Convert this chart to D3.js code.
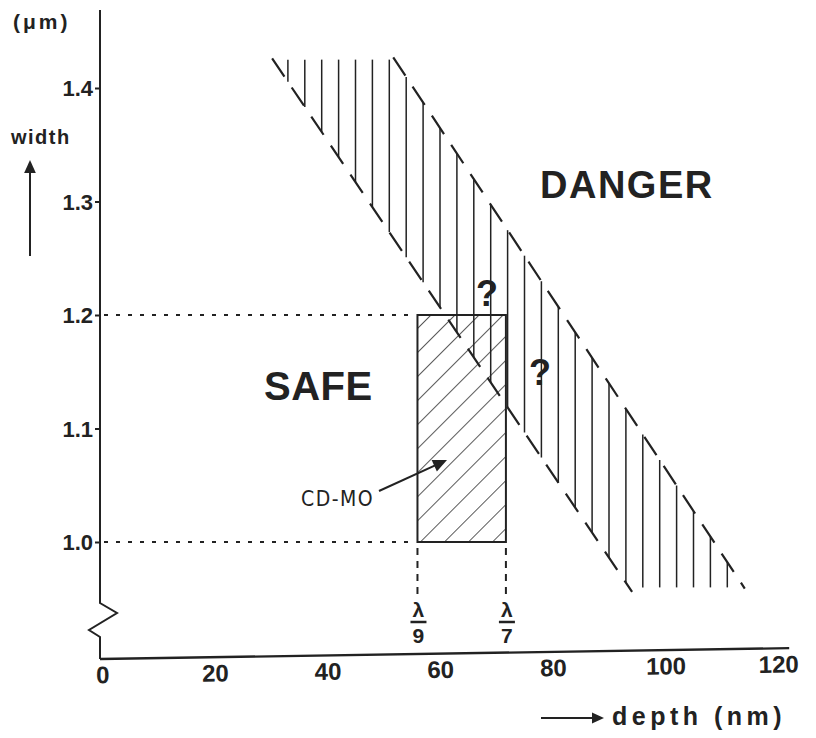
<!DOCTYPE html>
<html>
<head>
<meta charset="utf-8">
<script src="https://cdn.jsdelivr.net/npm/d3@7"></script>
<style>
  html, body { margin: 0; padding: 0; background: #fff; }
  svg { display: block; }
</style>
</head>
<body>
<svg id="chart" width="816" height="738"></svg>
<script>
// Axis ticks
const depthTicks = [0, 20, 40, 60, 80, 100, 120];
const widthTicks = [1.0, 1.1, 1.2, 1.3, 1.4];

// CD-MO operating window: depth between λ/9 and λ/7, width 1.0–1.2 µm
const cdmoDepth = [56, 71.7];
const cdmoWidth = [1.0, 1.2];
const cdmoMarkers = [
  { depth: 56, denom: "9" },
  { depth: 71.7, denom: "7" }
];

// Boundary band between SAFE and DANGER (endpoints of the two dashed limits)
const safeLimit = [{ depth: 30.2, width: 1.426 }, { depth: 94.1, width: 0.956 }];
const dangerLimit = [{ depth: 51.7, width: 1.427 }, { depth: 114.1, width: 0.959 }];
const bandWidthRange = [0.96, 1.425];

const svg = d3.select("#chart");
const ink = "#222";
const sans = "Liberation Sans, Arial, Helvetica, sans-serif";

const x = d3.scaleLinear().domain([0, 120]).range([102, 778]);
const y = d3.scaleLinear().domain([1.0, 1.4]).range([542, 88]);

// bold sans label helper
function label(px, py, size, str, opts = {}) {
  return svg.append("text")
    .attr("x", px).attr("y", py)
    .attr("text-anchor", opts.anchor || "start")
    .style("font-family", opts.family || sans)
    .style("font-weight", opts.weight || "bold")
    .style("font-size", size + "px")
    .style("letter-spacing", (opts.spacing || 0) + "px")
    .style("fill", ink)
    .text(str);
}

// linear interpolation along a limit line
function widthAt(line, d) {
  const [a, b] = line;
  const t = (d - a.depth) / (b.depth - a.depth);
  return a.width + t * (b.width - a.width);
}

// ---- hatch pattern for the CD-MO window
const defs = svg.append("defs");
defs.append("pattern")
  .attr("id", "diag")
  .attr("patternUnits", "userSpaceOnUse")
  .attr("width", 17).attr("height", 17)
  .attr("patternTransform", "rotate(45)")
  .append("line")
  .attr("x1", 0).attr("y1", 0).attr("x2", 0).attr("y2", 17)
  .attr("stroke", ink).attr("stroke-width", 1.5);

// ---- band: vertical hatching between the two limits
const hatchDepths = d3.range(33, 113, 3);
const hatch = svg.append("g").attr("stroke", ink).attr("stroke-width", 1.5);
hatchDepths.forEach(d => {
  const top = Math.min(bandWidthRange[1], widthAt(dangerLimit, d));
  const bot = Math.max(bandWidthRange[0], widthAt(safeLimit, d));
  if (top > bot + 0.005) {
    hatch.append("line")
      .attr("x1", x(d)).attr("x2", x(d))
      .attr("y1", y(top)).attr("y2", y(bot));
  }
});

// dashed limit lines
[safeLimit, dangerLimit].forEach(line => {
  svg.append("line")
    .attr("x1", x(line[0].depth)).attr("y1", y(line[0].width))
    .attr("x2", x(line[1].depth)).attr("y2", y(line[1].width))
    .attr("stroke", ink).attr("stroke-width", 2.2)
    .attr("stroke-dasharray", "22,13");
});

// ---- CD-MO window
const rx0 = x(cdmoDepth[0]), rx1 = x(cdmoDepth[1]);
const ry0 = y(cdmoWidth[1]), ry1 = y(cdmoWidth[0]);
svg.append("rect")
  .attr("x", rx0).attr("y", ry0)
  .attr("width", rx1 - rx0).attr("height", ry1 - ry0)
  .attr("fill", "url(#diag)")
  .attr("stroke", ink).attr("stroke-width", 2);

// guide lines to the axes
const guide = svg.append("g").attr("stroke", ink).attr("stroke-width", 2)
  .attr("stroke-dasharray", "4,8");
cdmoWidth.forEach(w => {
  guide.append("line")
    .attr("x1", 104).attr("x2", rx0 - 4)
    .attr("y1", y(w)).attr("y2", y(w));
});
cdmoMarkers.forEach(m => {
  guide.append("line")
    .attr("x1", x(m.depth)).attr("x2", x(m.depth))
    .attr("y1", ry1 + 6).attr("y2", 596)
    .attr("stroke-dasharray", "7,6");
});

// λ/n labels below the window
cdmoMarkers.forEach(m => {
  const cx = x(m.depth) + 1;
  label(cx, 617, 21, "λ", { anchor: "middle" });
  svg.append("line").attr("x1", cx - 8).attr("x2", cx + 8).attr("y1", 622).attr("y2", 622)
    .attr("stroke", ink).attr("stroke-width", 2.5);
  label(cx, 643, 21, m.denom, { anchor: "middle" });
});

// ---- axes
// y axis with a break near the origin
const yAxisPath = d3.path();
yAxisPath.moveTo(100, 10);
yAxisPath.lineTo(100, 603);
yAxisPath.lineTo(117, 613);
yAxisPath.lineTo(89, 630);
yAxisPath.lineTo(100, 637);
yAxisPath.lineTo(100, 659);
svg.append("path").attr("d", yAxisPath.toString())
  .attr("fill", "none").attr("stroke", ink).attr("stroke-width", 2);

const yAxis = svg.append("g")
  .attr("transform", "translate(100,0)")
  .call(d3.axisLeft(y).tickValues(widthTicks).tickFormat(d3.format(".1f"))
    .tickSize(5).tickPadding(2));
yAxis.select(".domain").remove();
yAxis.selectAll(".tick line").attr("stroke", ink).attr("stroke-width", 2);
yAxis.selectAll(".tick text")
  .style("font-family", sans).style("font-weight", "bold")
  .style("font-size", "22px").style("fill", ink)
  .attr("dy", "0.36em");

// x axis, drawn with a slight upward slant
const xAxis = svg.append("g")
  .attr("transform", "translate(0,659) rotate(-0.9,100,0)");
xAxis.append("line")
  .attr("x1", 100).attr("x2", x(122))
  .attr("y1", 0).attr("y2", 0)
  .attr("stroke", ink).attr("stroke-width", 2.4);
const xAxisTicks = xAxis.append("g")
  .call(d3.axisBottom(x).tickValues(depthTicks).tickFormat(d3.format("d"))
    .tickSize(0).tickPadding(7));
xAxisTicks.select(".domain").remove();
xAxisTicks.selectAll(".tick text")
  .style("font-family", sans).style("font-weight", "bold")
  .style("font-size", "24px").style("fill", ink)
  .attr("dy", "0.72em");

// ---- axis titles
label(13, 29, 21, "(μm)", { spacing: 3 });
label(11, 144, 20, "width", { spacing: 1.5 });

function arrow(x1, y1, x2, y2, head) {
  const a = Math.atan2(y2 - y1, x2 - x1);
  svg.append("line")
    .attr("x1", x1).attr("y1", y1)
    .attr("x2", x2 - Math.cos(a) * head * 0.8).attr("y2", y2 - Math.sin(a) * head * 0.8)
    .attr("stroke", ink).attr("stroke-width", 2);
  const w = head * 0.45;
  const p = [
    [x2, y2],
    [x2 - Math.cos(a) * head - Math.sin(a) * w, y2 - Math.sin(a) * head + Math.cos(a) * w],
    [x2 - Math.cos(a) * head + Math.sin(a) * w, y2 - Math.sin(a) * head - Math.cos(a) * w]
  ];
  svg.append("polygon").attr("points", p.map(q => q.join(",")).join(" ")).attr("fill", ink);
}
arrow(30, 256, 30, 160, 13);
arrow(541, 718, 604, 718, 12);
label(612, 725, 25, "depth (nm)", { spacing: 4.5 });

// ---- region labels
label(540, 198, 38, "DANGER", { spacing: 1.5 });
label(264, 400, 40, "SAFE", { spacing: 0.5 });
label(487, 306, 36, "?", { anchor: "middle" });
label(540, 385, 36, "?", { anchor: "middle" });

// CD-MO callout
label(301, 506, 21, "CD-MO", {
  family: "DejaVu Sans Condensed, DejaVu Sans, sans-serif",
  weight: "normal", spacing: 1.5
});
arrow(379, 491, 447, 460, 14);
</script>
</body>
</html>
